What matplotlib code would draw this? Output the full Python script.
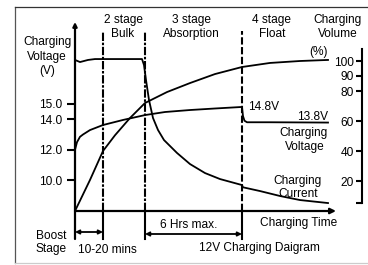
import numpy as np
import matplotlib
matplotlib.use("Agg")
import matplotlib.pyplot as plt
from matplotlib.lines import Line2D

plt.rcParams['font.family'] = ['Liberation Sans', 'DejaVu Sans']
plt.rcParams['font.size'] = 8.6

# --- data (time in arbitrary units, 0 = start of charge) ---
stage_edges = [28, 70, 167]          # boost | bulk | absorption | float
t_end = 253

volt_t = [0, 2, 5, 8, 15, 28, 48, 70, 90, 115, 140, 167, 168, 169.5, 172, 195, 253]
volt_v = [12.0, 12.5, 12.85, 13.0, 13.29, 13.62, 13.95, 14.27, 14.47, 14.6, 14.7, 14.8,
          14.2, 13.9, 13.8, 13.8, 13.78]

vol_t = [0, 15, 28, 40, 55, 70, 92, 115, 140, 167, 195, 225, 253]
vol_pct = [0, 20.7, 40, 50.5, 62, 72, 79.3, 85.3, 91.3, 96, 98.7, 100, 100.7]

cur_t = [0, 5, 13, 20, 67, 69, 71, 74, 78, 83, 89, 102, 115, 130, 145, 167, 168, 185, 205, 225, 253]
cur_pct = [100.7, 99.3, 100.7, 101.3, 101.3, 97.3, 87.3, 74, 62, 54, 47.3, 38.7, 31.3,
           25.3, 21.3, 17.3, 15.8, 13.3, 10, 7.3, 5.3]

volt_ticks = [10.0, 12.0, 14.0, 15.0]
pct_ticks = [20, 40, 60, 80, 90, 100]

W, H = 368, 265
def P(px, py):
    return px / W, 1 - py / H

fig = plt.figure(figsize=(W / 100, H / 100), dpi=100)
ax = fig.add_axes([75 / W, 54 / H, 287 / W, 189 / H])
ax.set_xlim(0, 287)
ax.set_ylim(8, 8 + 189 / 15.3)
ax.patch.set_alpha(0)
for s in ax.spines.values():
    s.set_visible(False)
ax.set_xticks([])
ax.set_yticks(volt_ticks)
ax.set_yticklabels([f"{v:.1f}" for v in volt_ticks])
ax.tick_params(axis='y', direction='out', length=5.8, width=1.5, pad=3.5, labelsize=8.6)

# percent axis drawn on the right, ticks pointing inward
axp = ax.twinx()
axp.set_ylim(0, 126)
for k, s in axp.spines.items():
    s.set_visible(k == 'left')
axp.yaxis.tick_left()
axp.spines['left'].set_position(('axes', 1.0))
axp.spines['left'].set_bounds(5.3, 108)
axp.spines['left'].set_linewidth(1.5)
axp.set_yticks(pct_ticks)
axp.set_yticks([5.3], minor=True)
axp.tick_params(axis='y', which='both', direction='out', length=4.5, width=1.5, pad=1.2, labelsize=8.6)

LW = 1.3
ax.plot(volt_t, volt_v, color='black', lw=LW, zorder=3)
axp.plot(vol_t, vol_pct, color='black', lw=LW, zorder=3)
axp.plot(cur_t, cur_pct, color='black', lw=LW, zorder=3)

# stage separators
top_v = 8 + (211 - 31) / 15.3
low_v = 8 - (239 - 211) / 15.3
for i, x in enumerate(stage_edges):
    dash = (0, (4, 0.8, 1.2, 0.8)) if i < 2 else (0, (3.5, 1.2))
    ax.plot([x, x], [8, top_v], color='black', lw=1.5, linestyle=dash, zorder=2)
    ax.plot([x, x], [low_v, 8], color='black', lw=1.5, clip_on=False)

# axes with arrows
ax.annotate('', xy=(261, 8), xytext=(0, 8), annotation_clip=False,
            arrowprops=dict(arrowstyle='-|>', lw=1.6, color='black',
                            mutation_scale=8, shrinkA=0, shrinkB=0))
ax.annotate('', xy=(0, 8 + 189 / 15.3), xytext=(0, low_v), annotation_clip=False,
            arrowprops=dict(arrowstyle='-|>', lw=1.6, color='black',
                            mutation_scale=6, shrinkA=0, shrinkB=0))

# duration arrows
arr = dict(arrowstyle='<|-|>', lw=1.3, color='black', mutation_scale=6, shrinkA=0, shrinkB=0)
ax.annotate('', xy=(0, 8 - 21 / 15.3), xytext=(stage_edges[0], 8 - 21 / 15.3),
            annotation_clip=False, arrowprops=arr)
ax.annotate('', xy=(stage_edges[1], 8 - 23 / 15.3), xytext=(stage_edges[2], 8 - 23 / 15.3),
            annotation_clip=False, arrowprops=arr)

# texts
def T(px, py, s, ha='center'):
    fig.text(*P(px, py), s, ha=ha, va='baseline', fontsize=8.6)

T(123, 23, "2 stage"); T(123, 37, "Bulk")
T(191, 23, "3 stage"); T(191, 37, "Absorption")
T(272, 23, "4 stage"); T(272, 37, "Float")
T(338, 22.5, "Charging"); T(338, 37, "Volume"); T(319, 55, "(%)")
T(47, 45, "Charging"); T(47, 59.5, "Voltage"); T(47, 74, "(V)")
T(248, 110, "14.8V", ha='left'); T(328, 120, "13.8V", ha='right')
T(304, 136, "Charging"); T(305, 150, "Voltage")
T(298, 184, "Charging"); T(298, 197, "Current")
T(260, 226, "Charging Time", ha='left')
T(189, 228, "6 Hrs max.")
T(36, 239, "Boost", ha='left'); T(36, 252, "Stage", ha='left')
T(78, 253, "10-20 mins", ha='left')
T(320, 251, "12V Charging Daigram", ha='right')

# outer frame
x0, y0 = P(15, 7)
_, y1 = P(0, 263)
fig.add_artist(Line2D([x0, x0], [y1, y0], color='#555555', lw=0.9))
fig.add_artist(Line2D([x0, 1.0], [y0, y0], color='#333333', lw=0.9))
fig.add_artist(Line2D([x0, 1.0], [y1, y1], color='#cccccc', lw=0.9))

fig.savefig("out.png", dpi=100)
